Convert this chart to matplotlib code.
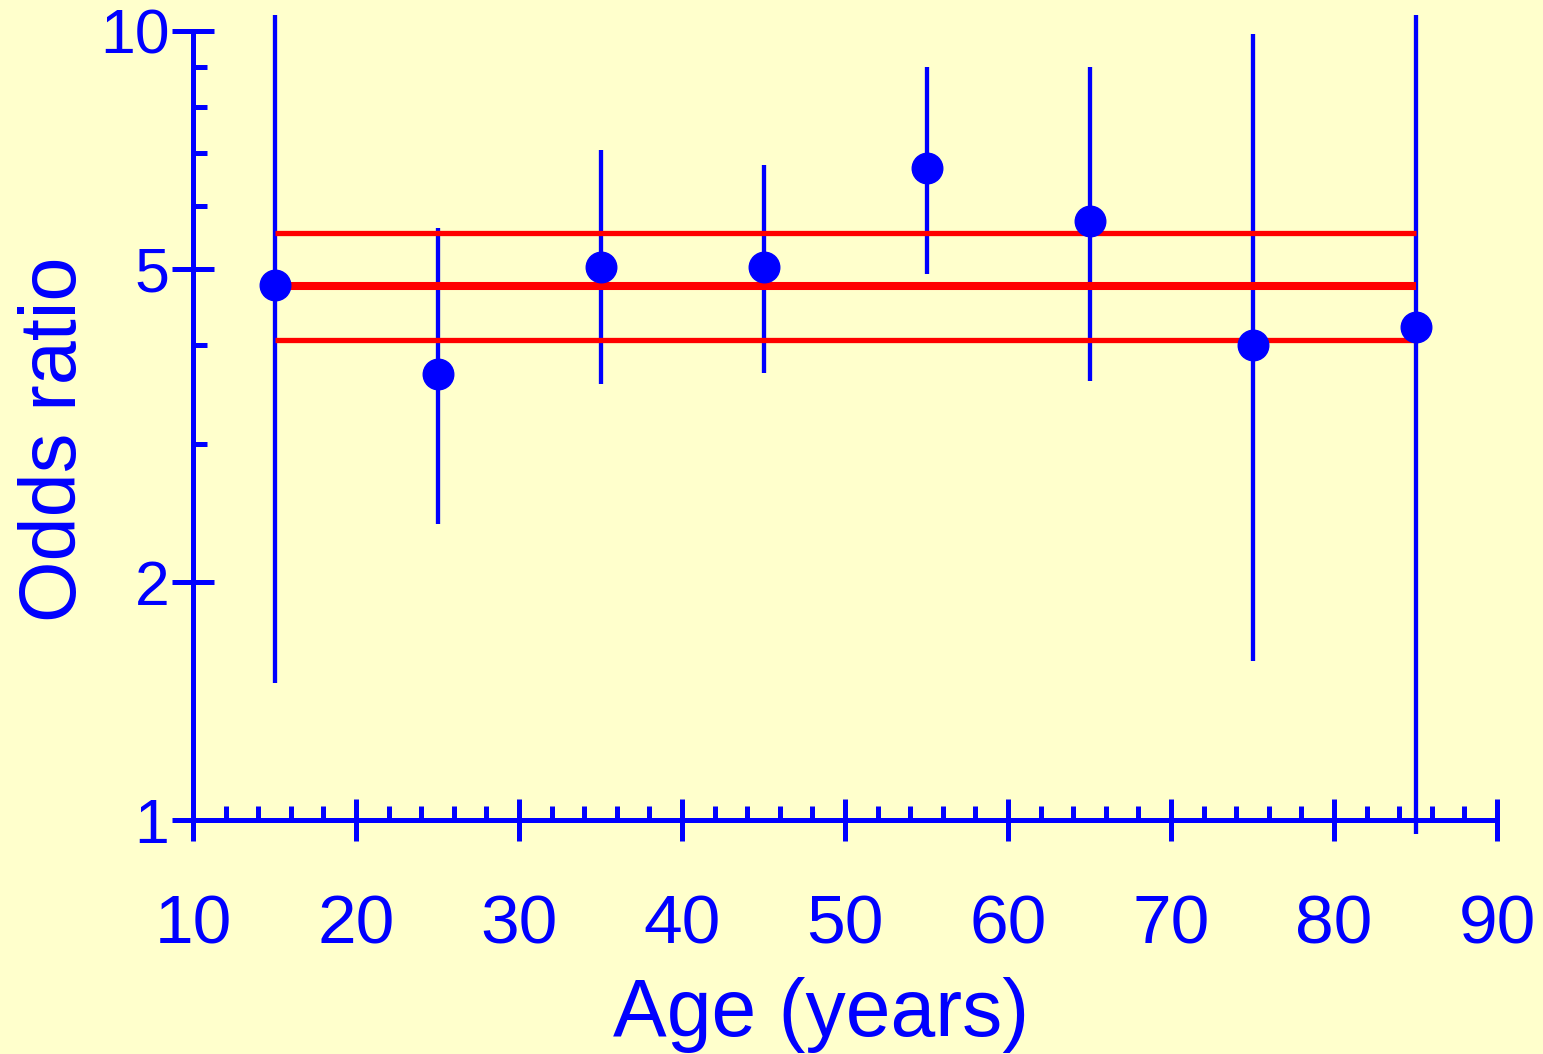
import matplotlib
matplotlib.use("Agg")
import matplotlib.pyplot as plt
from matplotlib.ticker import FixedLocator, NullFormatter

plt.rcParams['font.family'] = ['Liberation Sans', 'DejaVu Sans']

age = [15, 25, 35, 45, 55, 65, 75, 85]
odds = [4.77, 3.67, 5.02, 5.02, 6.70, 5.74, 4.00, 4.22]
ci_low = [1.49, 2.37, 3.57, 3.69, 4.92, 3.60, 1.59, 0.96]
ci_high = [10.48, 5.63, 7.06, 6.76, 9.00, 9.00, 9.91, 10.48]
pooled = 4.75
pooled_low = 4.06
pooled_high = 5.55
pooled_span = [15, 85]

x_major = [10, 20, 30, 40, 50, 60, 70, 80, 90]
x_minor = [v for v in range(12, 90, 2) if v % 10 != 0]
y_major = [1, 2, 5, 10]
y_minor = [3, 4, 6, 7, 8, 9]

BLUE = '#0000FF'
RED = '#FF0000'
BG = '#FFFFCC'

fig = plt.figure(figsize=(15.43, 10.54), dpi=100, facecolor=BG)
ax = fig.add_axes([0.1251, 0.222, 0.9702 - 0.1251, 0.9706 - 0.222])
ax.set_facecolor(BG)
ax.set_yscale('log')
ax.set_xlim(10, 90)
ax.set_ylim(1, 10)

# error bars
for a, lo, hi in zip(age, ci_low, ci_high):
    ax.plot([a, a], [lo, hi], color=BLUE, lw=3.1, solid_capstyle='butt',
            zorder=2, clip_on=False)

# pooled lines
ax.plot(pooled_span, [pooled, pooled], color=RED, lw=5.8, zorder=3, solid_capstyle='butt')
ax.plot(pooled_span, [pooled_low, pooled_low], color=RED, lw=3.8, zorder=3, solid_capstyle='butt')
ax.plot(pooled_span, [pooled_high, pooled_high], color=RED, lw=3.8, zorder=3, solid_capstyle='butt')

# points
ax.plot(age, odds, 'o', color=BLUE, ms=22, zorder=4, clip_on=False)

for s in ['top', 'right']:
    ax.spines[s].set_visible(False)
for s in ['left', 'bottom']:
    ax.spines[s].set_color(BLUE)
    ax.spines[s].set_linewidth(3.6)

ax.xaxis.set_major_locator(FixedLocator(x_major))
ax.xaxis.set_minor_locator(FixedLocator(x_minor))
ax.yaxis.set_major_locator(FixedLocator(y_major))
ax.yaxis.set_minor_locator(FixedLocator(y_minor))
ax.yaxis.set_minor_formatter(NullFormatter())
ax.set_xticklabels([str(v) for v in x_major])
ax.set_yticklabels([str(v) for v in y_major])

ax.tick_params(axis='x', which='major', direction='inout', length=30, width=3.6,
               color=BLUE, labelcolor=BLUE, labelsize=50, pad=38)
ax.tick_params(axis='x', which='minor', direction='in', length=10, width=3.6, color=BLUE)
ax.tick_params(axis='y', which='major', direction='inout', length=30, width=3.6,
               color=BLUE, labelcolor=BLUE, labelsize=45, pad=2)
ax.tick_params(axis='y', which='minor', direction='in', length=10, width=3.6, color=BLUE)

ax.set_xlabel('Age (years)', fontsize=58, color=BLUE, labelpad=14)
ax.set_ylabel('Odds ratio', fontsize=57, color=BLUE, labelpad=5)
ax.xaxis.label.set_x(0.4816)
ax.yaxis.label.set_y(0.483)

fig.savefig('out.png', dpi=100, facecolor=BG)
